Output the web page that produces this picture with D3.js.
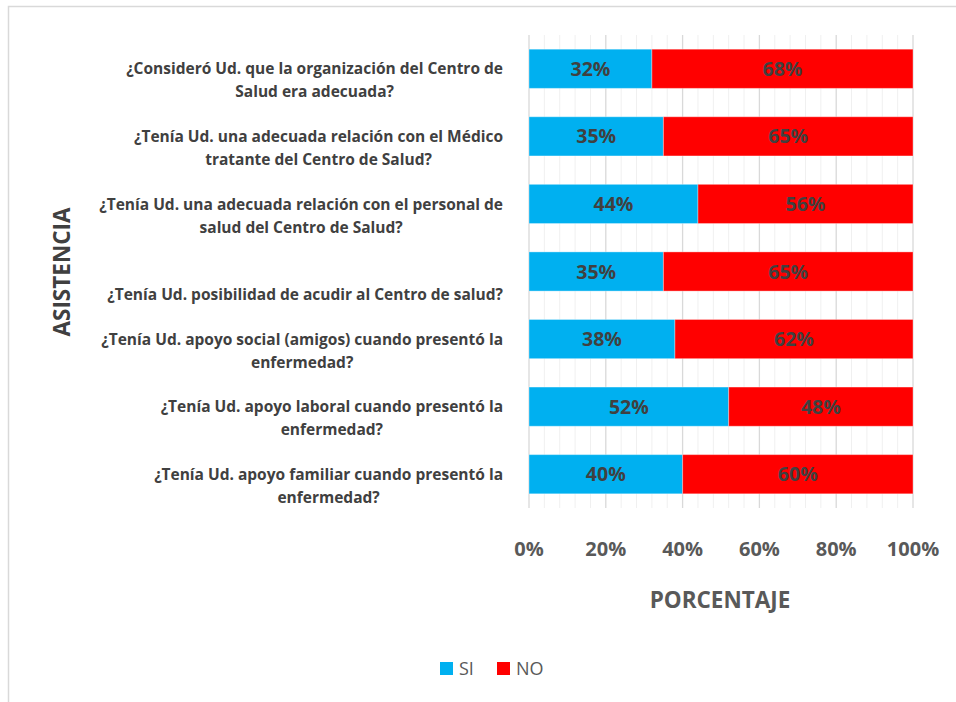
<!DOCTYPE html>
<html><head><meta charset="utf-8">
<script src="https://cdn.jsdelivr.net/npm/d3@7"></script>
<style>body{margin:0;background:#fff}svg{display:block}text{font-family:"Open Sans",sans-serif}</style>
</head><body>
<svg id="c" width="956" height="702"></svg>
<script>
const categories = [
  ["", "¿Consideró Ud. que la organización del Centro de", "Salud era adecuada?"],
  ["", "¿Tenía Ud. una adecuada relación con el Médico", "tratante del Centro de Salud?"],
  ["", "¿Tenía Ud. una adecuada relación con el personal de", "salud del Centro de Salud?"],
  ["", "", "¿Tenía Ud. posibilidad de acudir al Centro de salud?"],
  ["", "¿Tenía Ud. apoyo social (amigos) cuando presentó la", "enfermedad?"],
  ["", "¿Tenía Ud. apoyo laboral cuando presentó la", "enfermedad?"],
  ["", "¿Tenía Ud. apoyo familiar cuando presentó la", "enfermedad?"]
];
const siValues = [32, 35, 44, 35, 38, 52, 40];
const noValues = [68, 65, 56, 65, 62, 48, 60];
const seriesNames = ["SI", "NO"];
const seriesColors = ["#00B0F0", "#FF0000"];
const xTicks = [0, 20, 40, 60, 80, 100];
const minorTicks = d3.range(0, 101, 4);

const svg = d3.select("#c");
svg.append("rect").attr("x", 8.5).attr("y", 6.5).attr("width", 1000).attr("height", 800)
  .attr("fill", "none").attr("stroke", "#d9d9d9").attr("stroke-width", 1.5);

const x = d3.scaleLinear().domain([0, 100]).range([529, 913]);
const y = d3.scaleBand().domain(d3.range(categories.length)).range([35, 508]).paddingInner(0.42).paddingOuter(0.21);

svg.append("g").selectAll("line").data(minorTicks.filter(d => d % 20 !== 0)).join("line")
  .attr("x1", d => x(d)).attr("x2", d => x(d)).attr("y1", 35).attr("y2", 508)
  .attr("stroke", "#f0f0f0").attr("stroke-width", 1);
svg.append("g").selectAll("line").data(xTicks).join("line")
  .attr("x1", d => x(d)).attr("x2", d => x(d)).attr("y1", 35).attr("y2", 508)
  .attr("stroke", "#d9d9d9").attr("stroke-width", 1.3);

const rows = categories.map((c, i) => ({i, si: siValues[i], no: noValues[i]}));
const g = svg.append("g");
rows.forEach(r => {
  const segs = [{v0: 0, v1: r.si, c: seriesColors[0]}, {v0: r.si, v1: r.si + r.no, c: seriesColors[1]}];
  segs.forEach(s => {
    g.append("rect").attr("x", x(s.v0)).attr("y", y(r.i)).attr("width", x(s.v1) - x(s.v0)).attr("height", y.bandwidth())
      .attr("fill", s.c).attr("stroke", "rgba(255,255,255,0.35)").attr("stroke-width", 1);
    g.append("text").attr("x", (x(s.v0) + x(s.v1)) / 2).attr("y", y(r.i) + y.bandwidth() / 2)
      .attr("dy", "0.36em").attr("text-anchor", "middle").attr("font-size", 19.5).attr("font-weight", 700)
      .attr("fill", "#404040").text((s.v1 - s.v0) + "%");
  });
});

const lh = 23;
const labG = svg.append("g");
categories.forEach((lines, i) => {
  const cy = y(i) + y.bandwidth() / 2;
  const n = lines.length;
  const t = labG.append("text").attr("font-size", 15.5).attr("font-weight", 700).attr("fill", "#404040").attr("text-anchor", "middle");
  const spans = lines.map((ln, k) => t.append("tspan").attr("y", cy + (k - (n - 1) / 2) * lh).attr("dy", "0.36em").text(ln));
  const maxW = d3.max(spans, s => s.node().getComputedTextLength());
  spans.forEach(s => s.attr("x", 503 - maxW / 2));
});

svg.append("g").selectAll("text").data(xTicks).join("text")
  .attr("x", d => x(d)).attr("y", 549).attr("dy", "0.36em").attr("text-anchor", "middle")
  .attr("font-size", 20).attr("font-weight", 700).attr("fill", "#595959").text(d => d + "%");

svg.append("text").attr("x", 720).attr("y", 600).attr("dy", "0.36em").attr("text-anchor", "middle")
  .attr("font-size", 22.5).attr("font-weight", 700).attr("fill", "#595959").text("PORCENTAJE");
svg.append("text").attr("transform", "translate(62,272) rotate(-90)").attr("dy", "0.36em").attr("text-anchor", "middle")
  .attr("font-size", 22.5).attr("font-weight", 700).attr("fill", "#404040").text("ASISTENCIA");

const legX = [440, 497];
seriesNames.forEach((nm, i) => {
  svg.append("rect").attr("x", legX[i]).attr("y", 662).attr("width", 13).attr("height", 13).attr("fill", seriesColors[i]);
  svg.append("text").attr("x", legX[i] + 19).attr("y", 669).attr("dy", "0.36em").attr("font-size", 18)
    .attr("fill", "#595959").text(nm);
});
</script>
</body></html>
